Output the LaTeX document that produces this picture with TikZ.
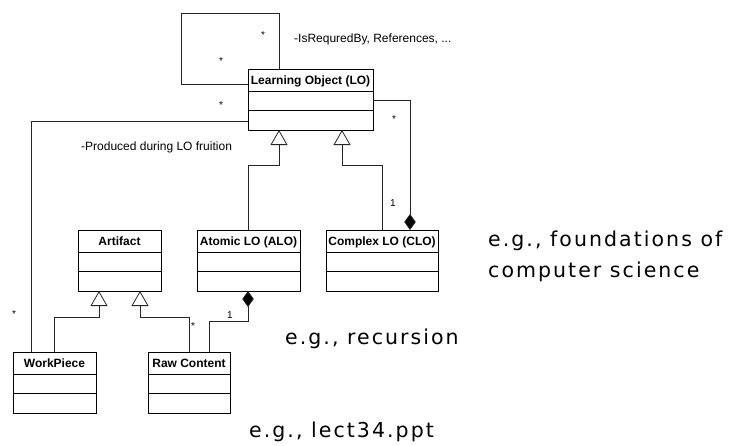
\documentclass[tikz,border=0pt]{standalone}
\usepackage{fontspec}
\setmainfont{Liberation Sans}
\newfontfamily\bigfont[LetterSpace=10]{DejaVu Sans}
\usetikzlibrary{arrows.meta,calc}
\tikzset{
  classbox/.style={draw=black, line width=0.9pt, inner sep=0pt, outer sep=0pt, anchor=north west, minimum height=61pt},
  classname/.style={font=\fontsize{12}{14}\selectfont\bfseries, inner sep=0pt, anchor=base},
  divider/.style={line width=0.9pt},
  conn/.style={line width=0.8pt, black!85},
  gen/.style={conn, -{Triangle[open, length=15pt, width=17pt, line width=0.8pt]}},
  comp/.style={conn, -{Diamond[length=16pt, width=11.5pt, fill=black]}},
  mult/.style={font=\fontsize{10}{12}\selectfont, inner sep=0pt},
  rolelabel/.style={font=\fontsize{12}{14}\selectfont, inner sep=0pt, anchor=base west},
  example/.style={font=\bigfont\fontsize{20.5}{24}\selectfont, inner sep=0pt, anchor=base west, align=left}
}
\newcommand\umlclass[5]{% name, x, y, width, title
  \node[classbox, minimum width=#4pt] (#1) at (#2,#3) {};
  \node[classname] (#1-t) at ($(#1.north)+(0,15.5)$) {#5};
  \draw[divider] ($(#1.north west)+(0,22)$) -- ($(#1.north east)+(0,22)$);
  \draw[divider] ($(#1.north west)+(0,41.5)$) -- ($(#1.north east)+(0,41.5)$);
}
\begin{document}
\begin{tikzpicture}[x=1pt,y=-1pt]
\useasboundingbox (0,0) rectangle (730,445);
\fill[white] (0,0) rectangle (730,445);

\umlclass{lo}{248}{69}{125}{Learning Object (LO)}
\umlclass{alo}{197}{230}{103}{Atomic LO (ALO)}
\umlclass{clo}{326}{230}{112}{Complex LO (CLO)}
\umlclass{art}{78}{230}{83}{Artifact}
\umlclass{wp}{13}{352}{83}{WorkPiece}
\umlclass{raw}{148}{352}{82}{Raw Content}

% self association
\coordinate (loopTL) at (181,13);
\draw[conn] ($(lo.north west)+(31,0)$) |- (loopTL) |- ($(lo.north west)+(0,15)$);
\node[mult] (m1) at (263,35) {*};
\node[mult] (m2) at (221,61) {*};
\node[rolelabel] (r1) at (294,42.3) {-IsRequredBy, References, ...};

% produced during
\draw[conn] ($(lo.north west)+(0,52)$) -| ($(wp.north west)+(18,0)$);
\node[mult] (m3) at (221,105) {*};
\node[mult] (m4) at (14,314) {*};
\node[rolelabel] (r2) at (81,150) {-Produced during LO fruition};

% composition LO - CLO
\draw[comp] ($(lo.north east)+(0,31)$) -| ($(clo.north west)+(84,0)$);
\node[mult] (m5) at (394,119) {*};
\node[mult] (m6) at (393,203) {1};

% generalizations
\draw[gen] ($(alo.north west)+(51,0)$) -- ++(0,-65) -| ($(lo.south west)+(31,0)$);
\draw[gen] ($(clo.north west)+(56,0)$) -- ++(0,-65) -| ($(lo.south west)+(94,0)$);
\draw[gen] ($(wp.north west)+(41,0)$) -- ++(0,-35) -| ($(art.south west)+(21,0)$);
\draw[gen] ($(raw.north west)+(41,0)$) -- ++(0,-35) -| ($(art.south west)+(62,0)$);
\node[mult] (m7) at (193,326) {*};

% composition ALO - Raw
\draw[comp] ($(raw.north west)+(61,0)$) -- ++(0,-31) -| ($(alo.south west)+(51,0)$);
\node[mult] (m8) at (230,315) {1};

% examples
\node[example] (e1) at (488,246.7) {e.g., foundations of};
\node[example] (e2) at (488,277.5) {computer science};
\node[example] (e3) at (285,344) {e.g., recursion};
\node[example] (e4) at (249,437) {e.g., lect34.ppt};
\end{tikzpicture}
\end{document}
